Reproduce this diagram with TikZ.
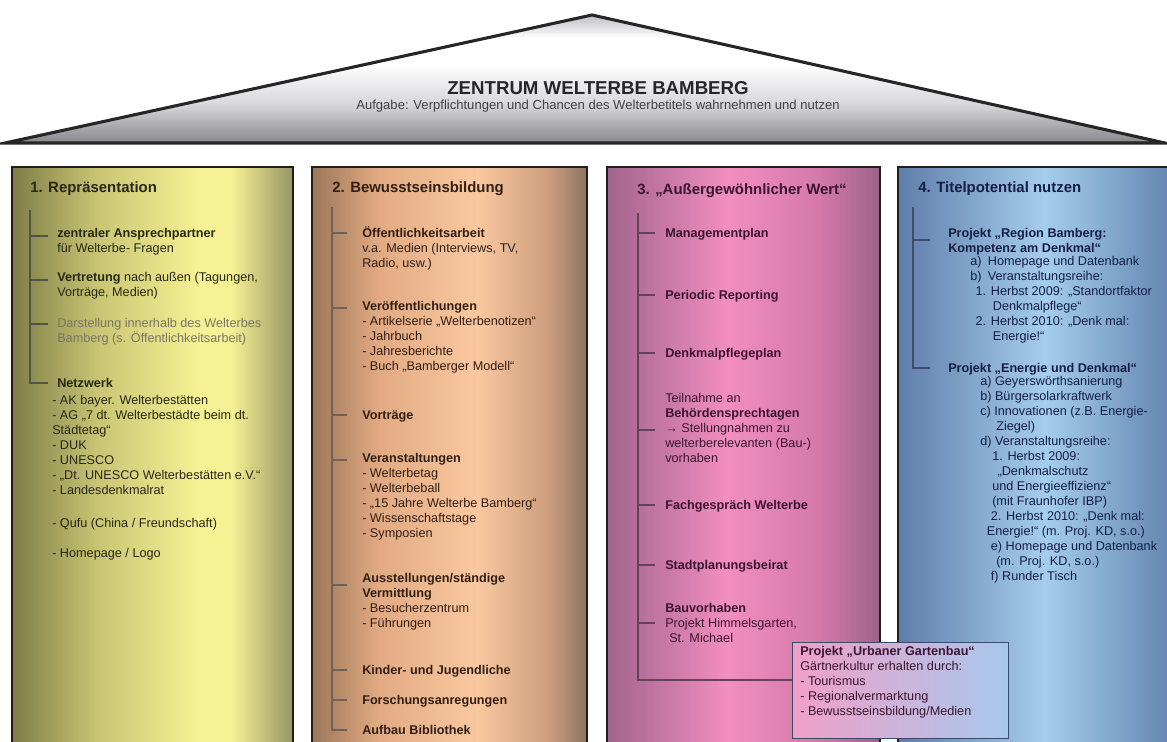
\documentclass[tikz,border=0pt]{standalone}
\usepackage{fontspec}
\setmainfont{Liberation Sans}
\definecolor{roofbot}{RGB}{135,135,140}
\definecolor{roofmid}{RGB}{215,215,218}
\definecolor{rooftop}{RGB}{190,190,195}
\definecolor{aL}{RGB}{125,125,72}
\definecolor{aM}{RGB}{200,196,115}
\definecolor{aC}{RGB}{246,241,148}
\definecolor{aR}{RGB}{150,150,100}
\definecolor{bL}{RGB}{155,118,90}
\definecolor{bM}{RGB}{225,170,130}
\definecolor{bC}{RGB}{250,200,160}
\definecolor{bN}{RGB}{205,158,125}
\definecolor{bR}{RGB}{140,115,100}
\definecolor{cL}{RGB}{160,100,140}
\definecolor{cC}{RGB}{242,142,192}
\definecolor{cN}{RGB}{212,120,170}
\definecolor{cR}{RGB}{155,98,138}
\definecolor{dL}{RGB}{95,125,170}
\definecolor{dC}{RGB}{165,205,236}
\definecolor{dR}{RGB}{95,128,172}
\definecolor{uL}{RGB}{240,160,200}
\definecolor{uR}{RGB}{168,200,236}
\definecolor{ubord}{RGB}{60,72,110}
\definecolor{txA}{RGB}{40,40,20}
\definecolor{txAg}{RGB}{120,120,95}
\definecolor{txB}{RGB}{50,30,20}
\definecolor{txC}{RGB}{60,20,50}
\definecolor{txD}{RGB}{20,30,70}
\definecolor{bord}{RGB}{35,30,28}
\pgfdeclareverticalshading{roofsh}{100bp}{color(0bp)=(roofbot); color(25bp)=(roofbot); color(40bp)=(roofmid); color(56bp)=(white); color(66bp)=(white); color(75bp)=(rooftop); color(100bp)=(rooftop)}
\pgfdeclarehorizontalshading{shA}{100bp}{color(0bp)=(aL); color(25bp)=(aL); color(40bp)=(aM); color(58bp)=(aC); color(64bp)=(aC); color(75bp)=(aR); color(100bp)=(aR)}
\pgfdeclarehorizontalshading{shB}{100bp}{color(0bp)=(bL); color(25bp)=(bL); color(37bp)=(bM); color(55bp)=(bC); color(68bp)=(bN); color(75bp)=(bR); color(100bp)=(bR)}
\pgfdeclarehorizontalshading{shC}{100bp}{color(0bp)=(cL); color(25bp)=(cL); color(47bp)=(cC); color(64bp)=(cN); color(75bp)=(cR); color(100bp)=(cR)}
\pgfdeclarehorizontalshading{shD}{100bp}{color(0bp)=(dL); color(25bp)=(dL); color(51bp)=(dC); color(75bp)=(dR); color(100bp)=(dR)}
\pgfdeclarehorizontalshading{shU}{100bp}{color(0bp)=(uL); color(25bp)=(uL); color(75bp)=(uR); color(100bp)=(uR)}
\tikzset{
  colbox/.style={draw=bord, line width=2pt},
  itm/.style={anchor=north west, inner sep=0pt, align=left, yshift=7.84pt,
    font=\fontsize{9.5}{11.2}\selectfont, execute at begin node=\strut},
  ttl/.style={anchor=base west, inner sep=0pt, font=\fontsize{11.2}{13}\selectfont\bfseries},
  tree/.style={line width=0.8pt},
}
\begin{document}
\begin{tikzpicture}[x=0.75pt,y=-0.75pt]
\useasboundingbox (0,0) rectangle (1167,742);
\clip (0,0) rectangle (1167,742);
\fill[white] (0,0) rectangle (1167,742);

% roof
\shadedraw[shading=roofsh, draw=black!85, line width=2.3pt, line join=miter] (5,143) -- (592,15) -- (1165,143) -- cycle;
\node[font=\fontsize{14}{16}\selectfont\bfseries, text=black!85] (rooftitle) at (598,88) {ZENTRUM WELTERBE BAMBERG};
\node[font=\fontsize{9.8}{11}\selectfont, text=black!75] (roofsub) at (598,106) {Aufgabe: Verpflichtungen und Chancen des Welterbetitels wahrnehmen und nutzen};

% columns
\shadedraw[shading=shA, colbox] (12,167) rectangle (293,760);
\shadedraw[shading=shB, colbox] (312,167) rectangle (587,760);
\shadedraw[shading=shC, colbox] (607,167) rectangle (880,760);
\shadedraw[shading=shD, colbox] (898,167) rectangle (1180,760);

% ---- column 1
\begin{scope}[every node/.append style={text=txA}]
\node[ttl] (t1) at (30,192) {1. Repräsentation};
\node[itm] (a1) at (57,239) {\textbf{zentraler Ansprechpartner}\\für Welterbe- Fragen};
\node[itm] (a2) at (57,283) {\textbf{Vertretung} nach außen (Tagungen,\\Vorträge, Medien)};
\node[itm, text=txAg] (a3) at (57,329) {Darstellung innerhalb des Welterbes\\Bamberg (s. Öffentlichkeitsarbeit)};
\node[itm] (a4) at (57,387) {\textbf{Netzwerk}};
\node[itm] (a5) at (52,406) {- AK bayer. Welterbestätten\\- AG „7 dt. Welterbestädte beim dt.\\Städtetag“\\- DUK\\- UNESCO\\- „Dt. UNESCO Welterbestätten e.V.“\\- Landesdenkmalrat};
\node[itm] (a6) at (52,527) {- Qufu (China / Freundschaft)};
\node[itm] (a7) at (52,557) {- Homepage / Logo};
\end{scope}
\draw[tree, draw=txA!80] (30,210) -- (30,383) -- (48,383);
\foreach \y in {236,280,324} \draw[tree, draw=txA!80] (30,\y) -- (48,\y);

% ---- column 2
\begin{scope}[every node/.append style={text=txB}]
\node[ttl] (t2) at (332,192) {2. Bewusstseinsbildung};
\node[itm] (b1) at (362,237) {\textbf{Öffentlichkeitsarbeit}\\v.a. Medien (Interviews, TV,\\Radio, usw.)};
\node[itm] (b2) at (362,312) {\textbf{Veröffentlichungen}\\- Artikelserie „Welterbenotizen“\\- Jahrbuch\\- Jahresberichte\\- Buch „Bamberger Modell“};
\node[itm] (b3) at (362,419) {\textbf{Vorträge}};
\node[itm] (b4) at (362,464) {\textbf{Veranstaltungen}\\- Welterbetag\\- Welterbeball\\- „15 Jahre Welterbe Bamberg“\\- Wissenschaftstage\\- Symposien};
\node[itm] (b5) at (362,584) {\textbf{Ausstellungen/ständige}\\\textbf{Vermittlung}\\- Besucherzentrum\\- Führungen};
\node[itm] (b6) at (362,674) {\textbf{Kinder- und Jugendliche}};
\node[itm] (b7) at (362,704) {\textbf{Forschungsanregungen}};
\node[itm] (b8) at (362,734) {\textbf{Aufbau Bibliothek}};
\end{scope}
\draw[tree, draw=txB!70] (332,207) -- (332,730) -- (347,730);
\foreach \y in {233,308,415,460,585,670,700} \draw[tree, draw=txB!70] (332,\y) -- (347,\y);

% ---- column 3
\begin{scope}[every node/.append style={text=txC}]
\node[ttl] (t3) at (637,194) {3. „Außergewöhnlicher Wert“};
\node[itm] (c1) at (665,237) {\textbf{Managementplan}};
\node[itm] (c2) at (665,299) {\textbf{Periodic Reporting}};
\node[itm] (c3) at (665,357) {\textbf{Denkmalpflegeplan}};
\node[itm] (c4) at (665,404) {Teilnahme an\\\textbf{Behördensprechtagen}\\→ Stellungnahmen zu\\welterberelevanten (Bau-)\\vorhaben};
\node[itm] (c5) at (665,509) {\textbf{Fachgespräch Welterbe}};
\node[itm] (c6) at (665,569) {\textbf{Stadtplanungsbeirat}};
\node[itm] (c7) at (665,614) {\textbf{Bauvorhaben}\\Projekt Himmelsgarten,\\\hspace*{3pt}St. Michael};
\end{scope}
\node[draw=ubord, line width=0.8pt, shading=shU, minimum width=216*0.75pt, minimum height=96*0.75pt, anchor=north west, inner sep=0pt] (ubox) at (792,642) {};
\node[itm, text=txC] (u) at (800,657) {\textbf{Projekt „Urbaner Gartenbau“}\\Gärtnerkultur erhalten durch:\\- Tourismus\\- Regionalvermarktung\\- Bewusstseinsbildung/Medien};
\draw[tree, draw=txC!80] (638,213) -- (638,680) -- (ubox.west |- 0,680);
\foreach \y in {233,295,353,430,505,565,623} \draw[tree, draw=txC!80] (638,\y) -- (655,\y);

% ---- column 4
\begin{scope}[every node/.append style={text=txD}]
\node[ttl] (t4) at (918,192) {4. Titelpotential nutzen};
\node[itm] (d1) at (948,239) {\textbf{Projekt „Region Bamberg:}\\\textbf{Kompetenz am Denkmal“}};
\node[itm] (d2) at (970,267) {a)\enspace Homepage und Datenbank\\b)\enspace Veranstaltungsreihe:\\\hspace*{4pt}1. Herbst 2009: „Standortfaktor\\\hspace*{17pt}Denkmalpflege“\\\hspace*{4pt}2. Herbst 2010: „Denk mal:\\\hspace*{17pt}Energie!“};
\node[itm] (d3) at (948,372) {\textbf{Projekt „Energie und Denkmal“}};
\node[itm] (d4) at (980,387) {a) Geyerswörthsanierung\\b) Bürgersolarkraftwerk\\c) Innovationen (z.B. Energie-\\\hspace*{12pt}Ziegel)\\d) Veranstaltungsreihe:\\\hspace*{9pt}1. Herbst 2009:\\\hspace*{13pt}„Denkmalschutz\\\hspace*{9pt}und Energieeffizienz“\\\hspace*{9pt}(mit Fraunhofer IBP)\\\hspace*{8pt}2. Herbst 2010: „Denk mal:\\\hspace*{5pt}Energie!“ (m. Proj. KD, s.o.)\\\hspace*{8pt}e) Homepage und Datenbank\\\hspace*{12pt}(m. Proj. KD, s.o.)\\\hspace*{8pt}f) Runder Tisch};
\end{scope}
\draw[tree, draw=txD!80] (913,207) -- (913,368) -- (930,368);
\draw[tree, draw=txD!80] (913,240) -- (930,240);
\end{tikzpicture}
\end{document}
